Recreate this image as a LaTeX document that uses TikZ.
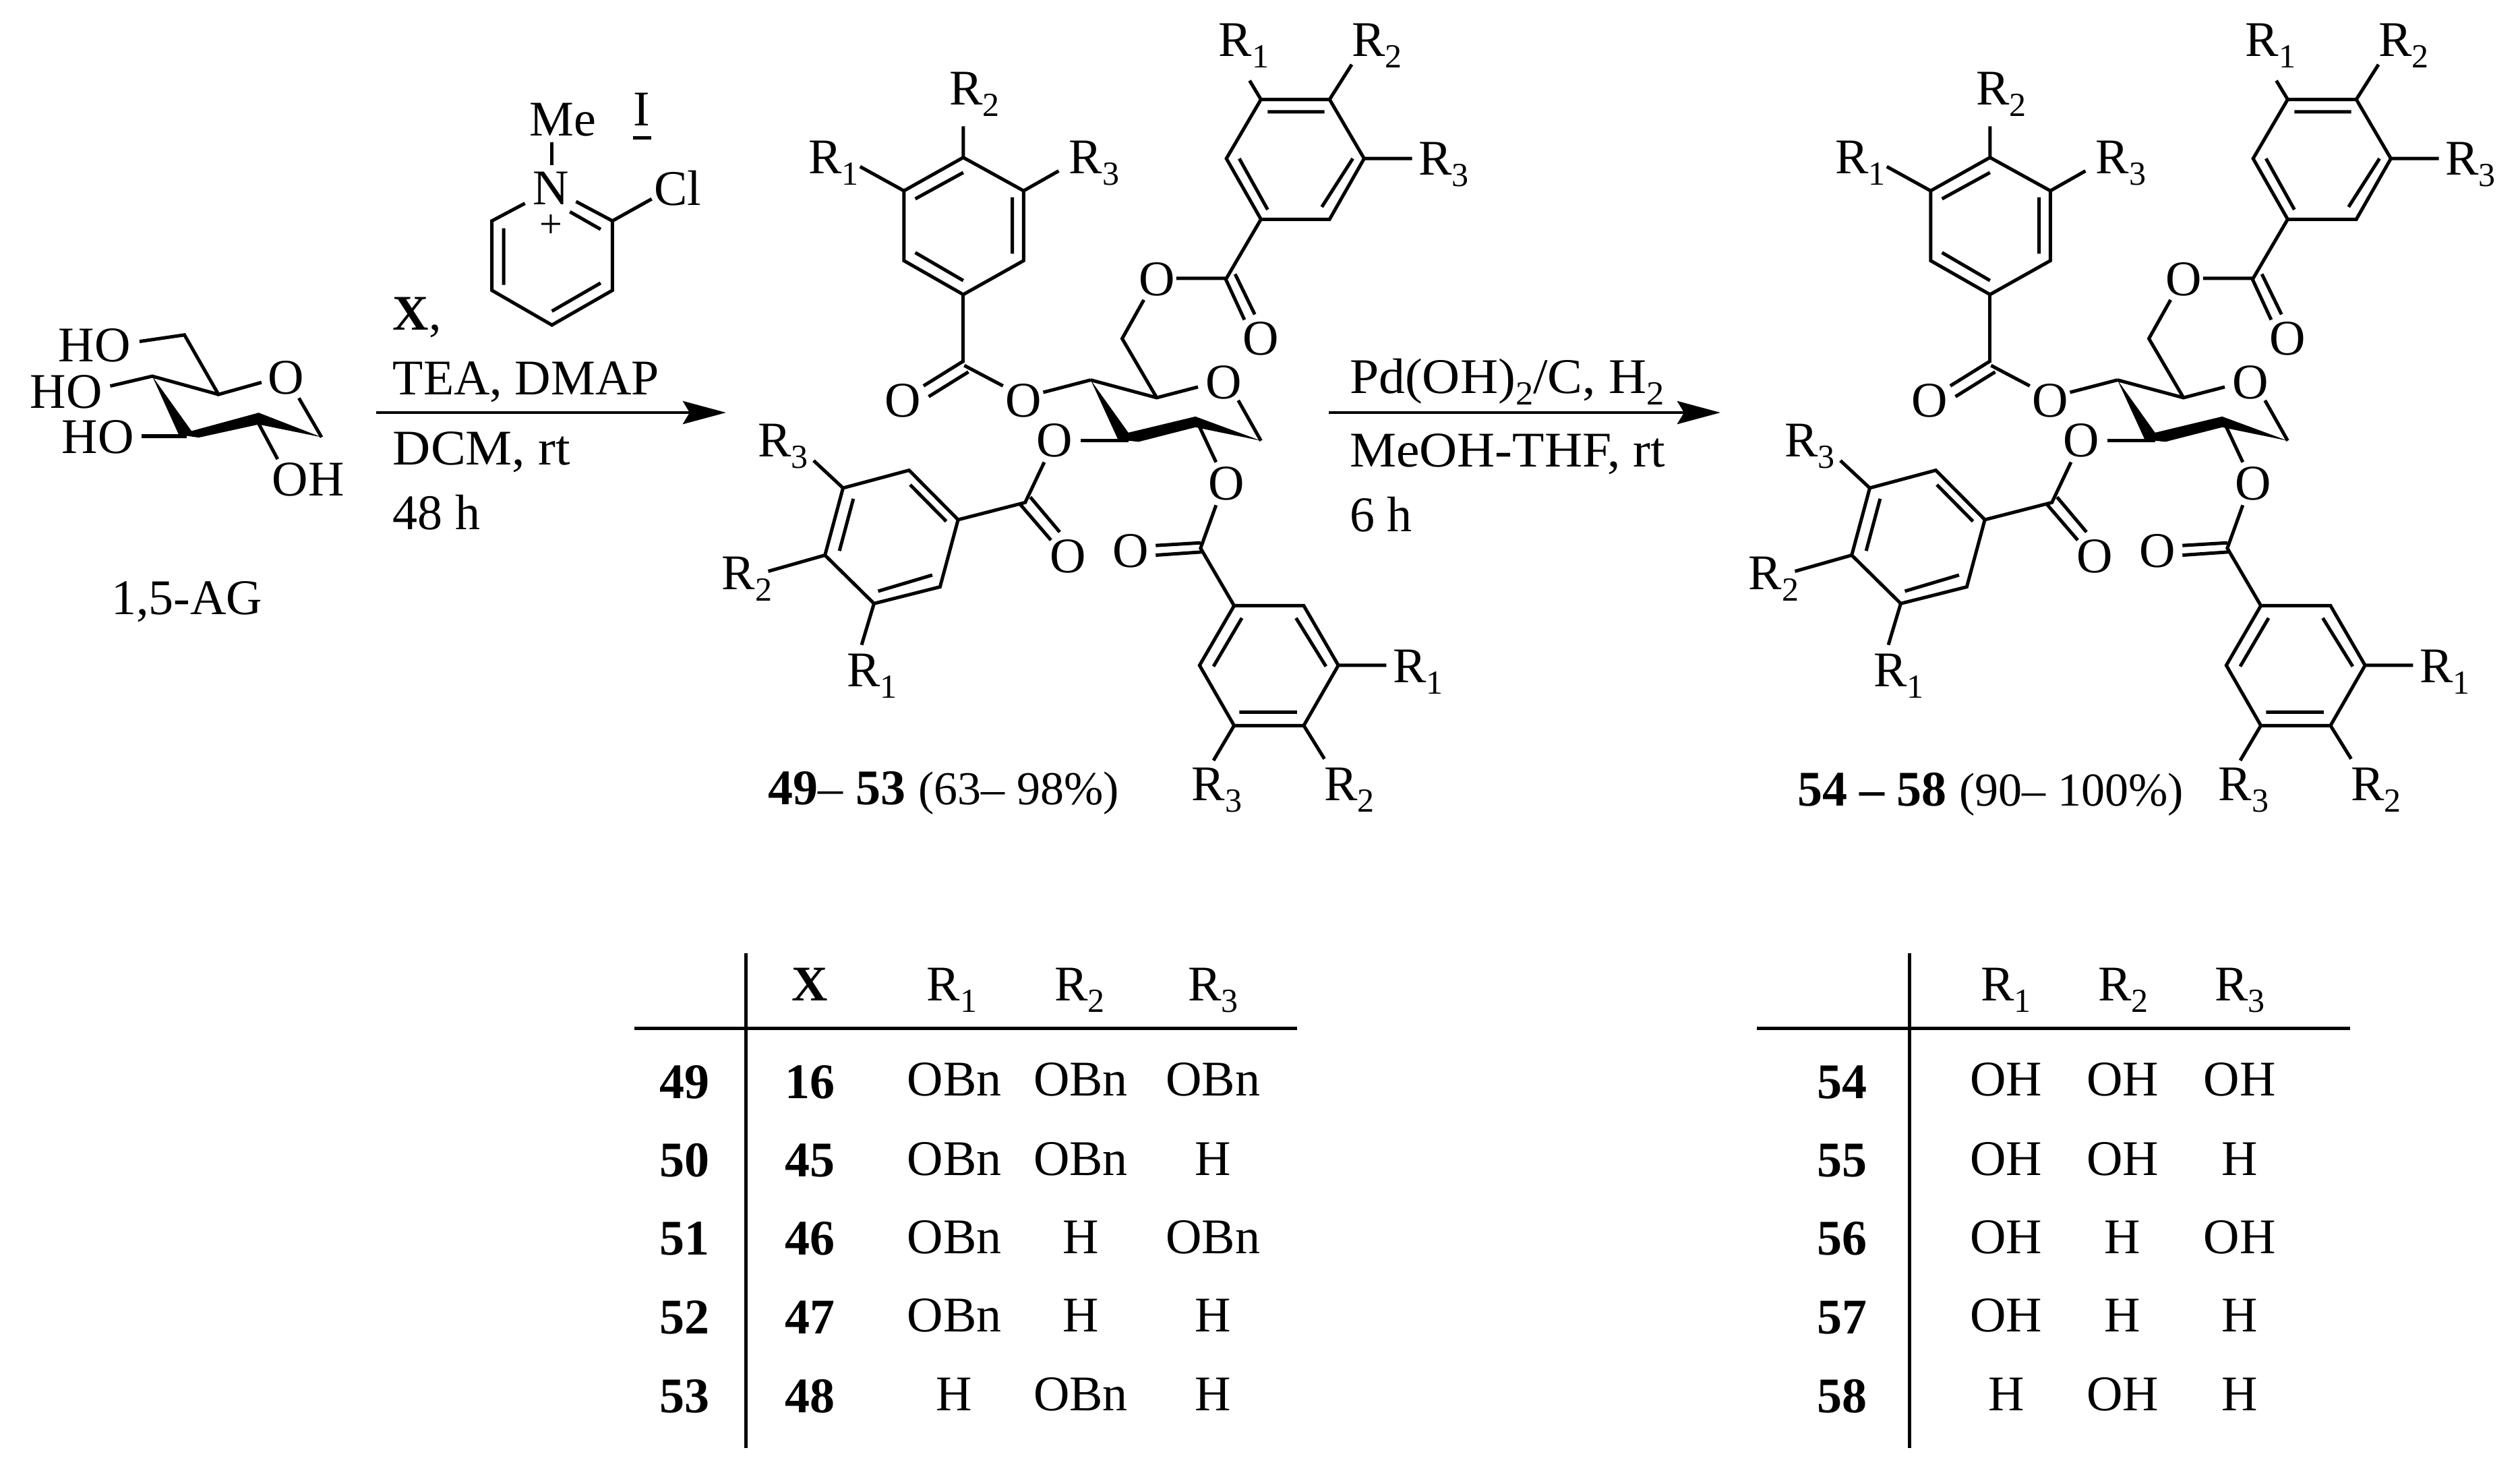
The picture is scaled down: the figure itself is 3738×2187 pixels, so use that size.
\documentclass[tikz,border=0pt]{standalone}
\usepackage{fontspec}
\setmainfont{Liberation Serif}
\usetikzlibrary{arrows.meta}
\newcommand{\Rsub}[2]{#1\raisebox{-1.7pt}{\fontsize{5}{5}\selectfont #2}}
\newcommand{\wider}{\addfontfeature{FakeStretch=1.05}}
\tikzset{
  bond/.style={line width=.5pt,line join=miter},
  txt/.style={inner sep=0pt,outer sep=0pt,font=\fontsize{7.4}{8}\selectfont},
  atom/.style={txt,anchor=center},
  lab/.style={txt,anchor=base west},
  cell/.style={txt,anchor=base},
  rule/.style={line width=.5pt},
  rxn/.style={line width=.48pt,-{Stealth[length=6.4pt,width=3.4pt,inset=1pt]}},
  wedge/.style={fill=black,draw=none}
}
\newcommand{\sugar}[2]{%
\begin{scope}[shift={(#1,0)},name prefix=#2-]
\begin{scope}[shift={(1050,0)},xscale=.7653,yscale=.7972]
% ring A
\draw[bond] (495,293)--(380,355)--(380,485)--(495,548)--(612,485)--(612,355)--cycle;
\draw[bond] (402,370)--(495,321) (590,367)--(590,472) (402,470)--(495,522);
\draw[bond] (495,293)--(495,235) (380,355)--(295,310) (612,355)--(680,318);
\node[lab] (a1) at (195,323) {\Rsub{R}{1}};
\node[lab] (a2) at (468,195) {\Rsub{R}{2}};
\node[lab] (a3) at (700,323) {\Rsub{R}{3}};
% ester A
\draw[bond] (495,548)--(495,675);
\draw[bond] (495,672)--(418,718) (505,692)--(428,738) (497,680)--(572,718);
\node[atom] (oa) at (378,745) {O};
\node[atom] (ob) at (612,745) {O};
\draw[bond] (650,730)--(742,707);
% pyranose
\draw[bond] (742,707)--(870,740)--(950,720);
\node[atom] (or) at (1000,712) {O};
\draw[bond] (1028,745)--(1072,820);
\fill[wedge] (742,707)--(795,818)--(835,822)--(945,795)--(1072,820)--(945,775)--(815,805)--cycle;
% C6 ester
\draw[bond] (870,740)--(803,630)--(845,558);
\node[atom] (oc) at (870,520) {O};
\draw[bond] (908,518)--(1005,518)--(1072,408);
\draw[bond] (1003,518)--(1040,595) (1022,510)--(1060,585);
\node[atom] (od) at (1072,630) {O};
% ring B
\draw[bond] (1072,408)--(1005,295)--(1072,185)--(1205,185)--(1272,295)--(1205,408)--cycle;
\draw[bond] (1030,295)--(1085,390) (1085,208)--(1195,208) (1250,295)--(1190,385);
\draw[bond] (1072,185)--(1050,150) (1205,185)--(1248,120) (1272,295)--(1365,295);
\node[lab] (b1) at (990,105) {\Rsub{R}{1}};
\node[lab] (b2) at (1248,105) {\Rsub{R}{2}};
\node[lab] (b3) at (1378,325) {\Rsub{R}{3}};
% O3 ester
\draw[bond] (815,820)--(722,820);
\node[atom] (oe) at (672,820) {O};
\draw[bond] (652,860)--(615,935)--(485,967);
\draw[bond] (605,938)--(665,1005) (625,925)--(682,990);
\node[atom] (of) at (698,1035) {O};
% ring C
\draw[bond] (485,967)--(390,875)--(262,908)--(227,1033)--(322,1123)--(450,1092)--cycle;
\draw[bond] (392,902)--(462,970) (282,928)--(255,1025) (330,1100)--(435,1070);
\draw[bond] (262,908)--(205,857) (227,1033)--(117,1063) (322,1123)--(298,1200);
\node[lab] (c3) at (97,850) {\Rsub{R}{3}};
\node[lab] (c2) at (27,1097) {\Rsub{R}{2}};
\node[lab] (c1) at (270,1278) {\Rsub{R}{1}};
% O2 ester
\draw[bond] (945,778)--(985,860);
\node[atom] (og) at (1005,900) {O};
\draw[bond] (985,940)--(955,1020)--(1020,1127);
\draw[bond] (955,1010)--(868,1015) (958,1027)--(868,1033);
\node[atom] (oh) at (820,1025) {O};
% ring D
\draw[bond] (1020,1127)--(1155,1127)--(1222,1238)--(1155,1350)--(1020,1350)--(953,1238)--cycle;
\draw[bond] (1140,1150)--(1198,1240) (1030,1325)--(1142,1325) (980,1240)--(1035,1150);
\draw[bond] (1222,1238)--(1315,1238) (1155,1350)--(1195,1412) (1020,1350)--(980,1415);
\node[lab] (d1) at (1328,1270) {\Rsub{R}{1}};
\node[lab] (d3) at (938,1490) {\Rsub{R}{3}};
\node[lab] (d2) at (1195,1490) {\Rsub{R}{2}};
\end{scope}
\end{scope}}
\begin{document}
\begin{tikzpicture}[x=.1pt,y=-.1pt]
\path[use as bounding box,fill=white] (0,0) rectangle (3738,2187);
% reagent and starting sugar
\begin{scope}[shift={(0,100)},xscale=.7015,yscale=.542]
\node[atom] (n) at (1165,330) {N};
\node[atom] (me) at (1190,143) {Me};
\node[atom] (i) at (1357,115) {I};
\draw[bond] (1338,192)--(1377,192);
\draw[bond] (1167,205)--(1167,268);
\draw[bond] (1110,372)--(1040,420)--(1040,610)--(1167,705)--(1295,610)--(1295,420)--(1218,367);
\draw[bond] (1205,395)--(1270,443) (1065,440)--(1065,595) (1167,667)--(1270,590);
\draw[bond] (1295,420)--(1378,360);
\node[atom] (cl) at (1433,330) {Cl};
\node[atom,font=\fontsize{6}{6}\selectfont] (plus) at (1165,435) {+};
% 1,5-AG
\node[atom] (ho1) at (200,760) {HO};
\node[atom] (ho2) at (140,888) {HO};
\node[atom] (ho3) at (207,1012) {HO};
\node[atom] (o5) at (605,850) {O};
\node[atom] (oh2) at (652,1128) {OH};
\draw[bond] (295,750)--(390,732)--(462,895)--(553,862);
\draw[bond] (233,872)--(322,845)--(462,895);
\draw[bond] (632,905)--(680,1012);
\fill[wedge] (322,845)--(378,1005)--(420,1013)--(547,977)--(680,1012)--(547,945)--(405,995)--cycle;
\draw[line width=.6pt] (300,1010)--(395,1010);
\draw[bond] (547,975)--(587,1072);
\node[cell] (ag) at (395,1497) {1,5-AG};
\end{scope}
\node[lab] (xc) at (583,489) {\textbf{X},};
\node[lab] (tea) at (583,585) {TEA, DMAP};
\node[lab] (dcm) at (583,689) {\wider DCM, rt};
\node[lab] (h48) at (583,785) {48 h};
\coordinate (a1s) at (558,612);
\coordinate (a1e) at (1077,612);
\draw[rxn] (a1s)--(a1e);
% arrow 2
\node[lab] (pd) at (2002,583) {\wider Pd(OH)\Rsub{}{2}/C, H\Rsub{}{2}};
\node[lab] (meoh) at (2002,692) {\wider MeOH-THF, rt};
\node[lab] (h6) at (2002,788) {6 h};
\coordinate (a2s) at (1971,612);
\coordinate (a2e) at (2552,612);
\draw[rxn] (a2s)--(a2e);
% products
\sugar{0}{p}
\sugar{1523}{q}
\node[lab] (cap1) at (1140,1193) {\textbf{49}– \textbf{53} \fontsize{7}{8}\selectfont (63– 98\%)};
\node[lab] (cap2) at (2666,1195) {\textbf{54 – 58} \fontsize{7}{8}\selectfont (90– 100\%)};
% table 1
\begin{scope}[shift={(900,1400)},xscale=.7015,yscale=.502]
\draw[rule] (294,27)--(294,1490);
\draw[rule] (58,249)--(1460,249);
\node[cell] (tx) at (430,168) {\textbf{X}};
\node[cell] (tr1) at (730,168) {\Rsub{R}{1}};
\node[cell] (tr2) at (1000,168) {\Rsub{R}{2}};
\node[cell] (tr3) at (1282,168) {\Rsub{R}{3}};
\foreach \a/\b/\c/\d/\e/\yb/\yn in {49/16/OBn/OBn/OBn/450/457,50/45/OBn/OBn/H/684/688,51/46/OBn/H/OBn/915/920,52/47/OBn/H/H/1147/1152,53/48/H/OBn/H/1380/1385}{
  \node[cell] (u\a) at (165,\yn) {\textbf{\a}};
  \node[cell] (v\a) at (430,\yn) {\textbf{\b}};
  \node[cell] (r1\a) at (735,\yb) {\c};
  \node[cell] (r2\a) at (1002,\yb) {\d};
  \node[cell] (r3\a) at (1282,\yb) {\e};
}
\end{scope}
% table 2
\begin{scope}[shift={(2560,1400)},xscale=.6378,yscale=.502]
\draw[rule] (428,27)--(428,1490);
\draw[rule] (72,249)--(1452,249);
\node[cell] (sr1) at (651,168) {\Rsub{R}{1}};
\node[cell] (sr2) at (924,168) {\Rsub{R}{2}};
\node[cell] (sr3) at (1195,168) {\Rsub{R}{3}};
\foreach \a/\c/\d/\e/\yb/\yn in {54/OH/OH/OH/450/457,55/OH/OH/H/684/688,56/OH/H/OH/915/920,57/OH/H/H/1147/1152,58/H/OH/H/1380/1385}{
  \node[cell] (w\a) at (270,\yn) {\textbf{\a}};
  \node[cell] (s1\a) at (652,\yb) {\c};
  \node[cell] (s2\a) at (923,\yb) {\d};
  \node[cell] (s3\a) at (1195,\yb) {\e};
}
\end{scope}
\end{tikzpicture}
\end{document}
